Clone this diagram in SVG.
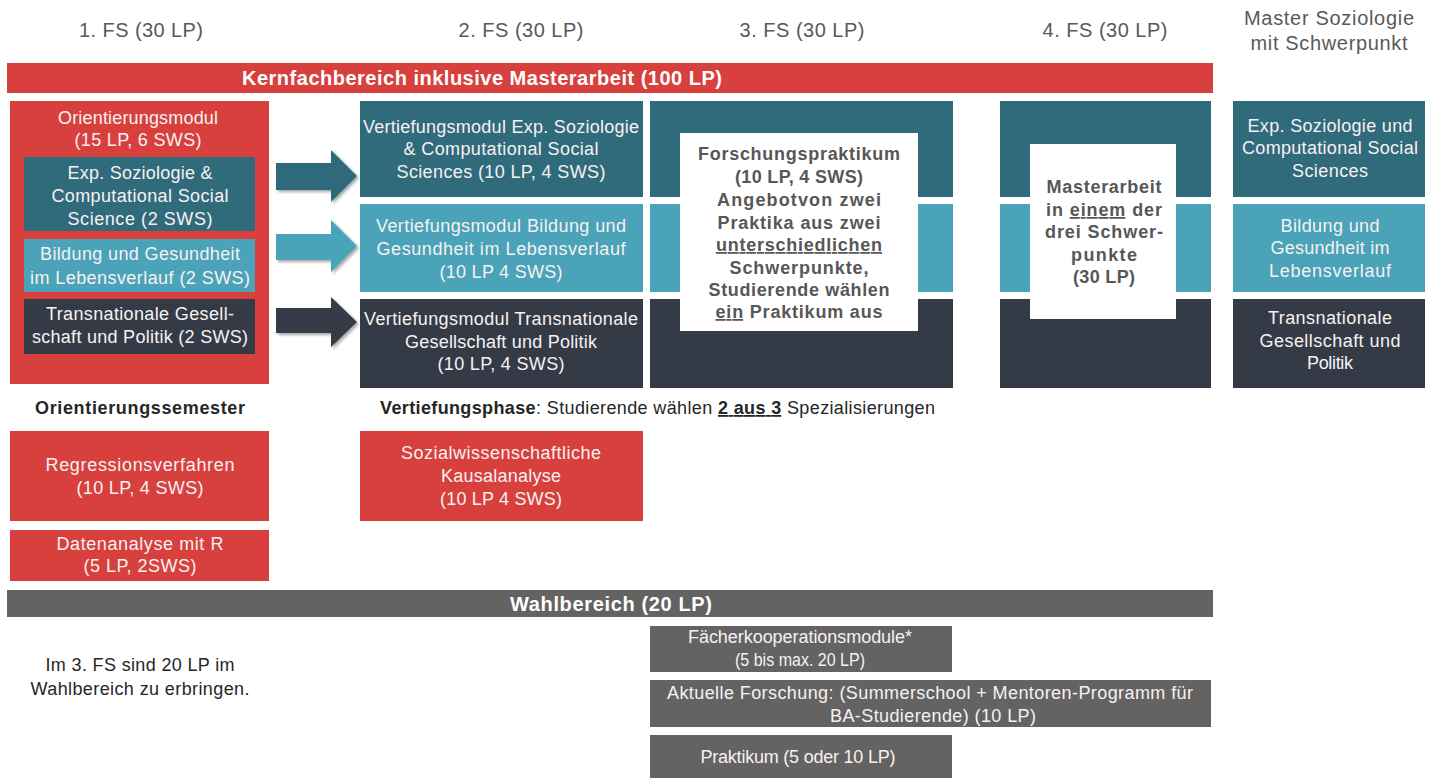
<svg xmlns="http://www.w3.org/2000/svg" width="1436" height="778" viewBox="0 0 1436 778">
<defs>
<style>
text{font-family:"Liberation Sans",Arial,sans-serif;text-anchor:middle}
.h{fill:#595959;font-size:20px}
.w{fill:#f7f1f1;font-size:18px}
.wb{fill:#ffffff;font-size:20px;font-weight:bold}
.g{fill:#575757;font-size:18px;font-weight:bold}
.d{fill:#262626;font-size:18px}
.red{fill:#d8403e}
.teal{fill:#2f6b7b}
.lteal{fill:#4aa3b9}
.navy{fill:#343b47}
.gray{fill:#636363}
.white{fill:#ffffff}
.u{text-decoration:underline}
</style>
<filter id="sh" x="-20%" y="-20%" width="150%" height="150%">
<feDropShadow dx="2" dy="2" stdDeviation="1.5" flood-color="#000" flood-opacity="0.35"/>
</filter>
</defs>
<rect width="1436" height="778" fill="#ffffff"/>

<g id="headers">
<text class="h" x="141" y="37" textLength="124">1. FS (30 LP)</text>
<text class="h" x="521" y="37" textLength="125">2. FS (30 LP)</text>
<text class="h" x="802" y="37" textLength="125">3. FS (30 LP)</text>
<text class="h" x="1105" y="37" textLength="125">4. FS (30 LP)</text>
<text class="h" x="1329" y="25" textLength="170">Master Soziologie</text>
<text class="h" x="1329" y="50" textLength="157">mit Schwerpunkt</text>
</g>

<g id="kernfach">
<rect class="red" x="7" y="63" width="1206" height="30"/>
<text class="wb" x="482" y="85" textLength="480">Kernfachbereich inklusive Masterarbeit (100 LP)</text>
</g>

<g id="orientierungsmodul">
<rect class="red" x="10" y="101" width="259" height="283"/>
<text class="w" x="138" y="124" textLength="160">Orientierungsmodul</text>
<text class="w" x="138" y="146" textLength="127">(15 LP, 6 SWS)</text>
</g>
<g id="om-exp">
<rect class="teal" x="24" y="157" width="231" height="74"/>
<text class="w" x="140" y="179" textLength="145">Exp. Soziologie &amp;</text>
<text class="w" x="140" y="202" textLength="177">Computational  Social</text>
<text class="w" x="140" y="225" textLength="145">Science (2 SWS)</text>
</g>
<g id="om-bildung">
<rect class="lteal" x="24" y="239" width="231" height="53"/>
<text class="w" x="140" y="260" textLength="200">Bildung und Gesundheit</text>
<text class="w" x="140" y="284" textLength="220">im Lebensverlauf (2 SWS)</text>
</g>
<g id="om-trans">
<rect class="navy" x="24" y="299" width="231" height="55"/>
<text class="w" x="140" y="320" textLength="188">Transnationale Gesell-</text>
<text class="w" x="140" y="343" textLength="216">schaft und Politik  (2 SWS)</text>
</g>

<g id="connectors" filter="url(#sh)">
<polygon class="teal" points="276,163 331,163 331,150 357,176 331,202 331,190 276,190"/>
<polygon class="lteal" points="276,234 331,234 331,220 357,246 331,272 331,260 276,260"/>
<polygon class="navy" points="276,308 331,308 331,297 357,322 331,347 331,333 276,333"/>
</g>

<g id="vt-exp">
<rect class="teal" x="360" y="101" width="283" height="96"/>
<text class="w" x="501" y="133" textLength="276">Vertiefungsmodul Exp. Soziologie</text>
<text class="w" x="501" y="155" textLength="195">&amp; Computational  Social</text>
<text class="w" x="501" y="178" textLength="209">Sciences (10 LP,  4 SWS)</text>
</g>
<g id="vt-bildung">
<rect class="lteal" x="360" y="204" width="283" height="88"/>
<text class="w" x="501" y="232" textLength="250">Vertiefungsmodul Bildung  und</text>
<text class="w" x="501" y="255" textLength="249">Gesundheit im Lebensverlauf</text>
<text class="w" x="501" y="278" textLength="123">(10 LP 4 SWS)</text>
</g>
<g id="vt-trans">
<rect class="navy" x="360" y="299" width="283" height="89"/>
<text class="w" x="501" y="325" textLength="274">Vertiefungsmodul Transnationale</text>
<text class="w" x="501" y="348" textLength="192">Gesellschaft und Politik</text>
<text class="w" x="501" y="370" textLength="127">(10 LP,  4 SWS)</text>
</g>

<g id="forschungspraktikum">
<rect class="teal" x="650" y="101" width="303" height="96"/>
<rect class="lteal" x="650" y="204" width="303" height="88"/>
<rect class="navy" x="650" y="299" width="303" height="89"/>
<rect class="white" x="680" y="133" width="238" height="198"/>
<text class="g" x="799" y="160" textLength="202">Forschungspraktikum</text>
<text class="g" x="799" y="183" textLength="128">(10 LP, 4 SWS)</text>
<text class="g" x="799" y="206" textLength="164">Angebotvon zwei</text>
<text class="g" x="799" y="229" textLength="163">Praktika aus zwei</text>
<text class="g u" x="799" y="251" textLength="166">unterschiedlichen</text>
<text class="g" x="799" y="274" textLength="139">Schwerpunkte,</text>
<text class="g" x="799" y="296" textLength="181">Studierende wählen</text>
<text class="g" x="799" y="318" textLength="167"><tspan class="u">ein</tspan> Praktikum aus</text>
</g>

<g id="masterarbeit">
<rect class="teal" x="1000" y="101" width="211" height="96"/>
<rect class="lteal" x="1000" y="204" width="211" height="88"/>
<rect class="navy" x="1000" y="299" width="211" height="89"/>
<rect class="white" x="1030" y="144" width="146" height="175"/>
<text class="g" x="1104" y="193" textLength="115">Masterarbeit</text>
<text class="g" x="1104" y="216" textLength="116">in <tspan class="u">einem</tspan> der</text>
<text class="g" x="1104" y="238" textLength="118">drei Schwer-</text>
<text class="g" x="1104" y="261" textLength="66">punkte</text>
<text class="g" x="1104" y="283" textLength="62">(30 LP)</text>
</g>

<g id="sp-exp">
<rect class="teal" x="1233" y="101" width="192" height="96"/>
<text class="w" x="1330" y="132" textLength="165">Exp. Soziologie und</text>
<text class="w" x="1330" y="154" textLength="176">Computational Social</text>
<text class="w" x="1330" y="177" textLength="76">Sciences</text>
</g>
<g id="sp-bildung">
<rect class="lteal" x="1233" y="204" width="192" height="88"/>
<text class="w" x="1330" y="232" textLength="99">Bildung und</text>
<text class="w" x="1330" y="254" textLength="119">Gesundheit im</text>
<text class="w" x="1330" y="277" textLength="122">Lebensverlauf</text>
</g>
<g id="sp-trans">
<rect class="navy" x="1233" y="299" width="192" height="89"/>
<text class="w" x="1330" y="324" textLength="124">Transnationale</text>
<text class="w" x="1330" y="347" textLength="141">Gesellschaft und</text>
<text class="w" x="1330" y="369" textLength="46">Politik</text>
</g>

<g id="labels">
<text class="d" x="140" y="414" font-weight="bold" font-size="17" textLength="210">Orientierungssemester</text>
<text class="d" x="380" y="414" style="text-anchor:start" textLength="555"><tspan font-weight="bold">Vertiefungsphase</tspan>: Studierende wählen <tspan font-weight="bold" class="u">2 aus 3</tspan> Spezialisierungen</text>
</g>

<g id="regression">
<rect class="red" x="10" y="431" width="259" height="90"/>
<text class="w" x="140" y="471" textLength="189">Regressionsverfahren</text>
<text class="w" x="140" y="494" textLength="127">(10 LP, 4 SWS)</text>
</g>
<g id="datenanalyse">
<rect class="red" x="10" y="530" width="259" height="51"/>
<text class="w" x="140" y="550" textLength="167">Datenanalyse mit R</text>
<text class="w" x="140" y="572" textLength="113">(5 LP, 2SWS)</text>
</g>
<g id="kausalanalyse">
<rect class="red" x="360" y="431" width="283" height="90"/>
<text class="w" x="501" y="459" textLength="200">Sozialwissenschaftliche</text>
<text class="w" x="501" y="482" textLength="120">Kausalanalyse</text>
<text class="w" x="501" y="505" textLength="122">(10 LP 4 SWS)</text>
</g>

<g id="wahlbereich">
<rect class="gray" x="7" y="590" width="1206" height="27"/>
<text class="wb" x="611" y="611" font-size="19" textLength="202">Wahlbereich (20 LP)</text>
</g>
<g id="wahl-note">
<text class="d" x="140" y="671" font-size="17" textLength="189">Im 3. FS sind 20 LP im</text>
<text class="d" x="140" y="695" font-size="17" textLength="219">Wahlbereich zu erbringen.</text>
</g>
<g id="faecherkooperation">
<rect class="gray" x="650" y="626" width="302" height="46"/>
<text class="w" x="800" y="643" textLength="224">Fächerkooperationsmodule*</text>
<text class="w" x="800" y="666" textLength="130" lengthAdjust="spacingAndGlyphs">(5 bis max. 20 LP)</text>
</g>
<g id="aktuelle-forschung">
<rect class="gray" x="650" y="680" width="561" height="47"/>
<text class="w" x="930" y="699" textLength="526">Aktuelle Forschung: (Summerschool + Mentoren-Programm für</text>
<text class="w" x="933" y="722" textLength="206">BA-Studierende) (10 LP)</text>
</g>
<g id="praktikum">
<rect class="gray" x="650" y="735" width="302" height="45"/>
<text class="w" x="798" y="763" textLength="195">Praktikum  (5 oder 10 LP)</text>
</g>
</svg>
